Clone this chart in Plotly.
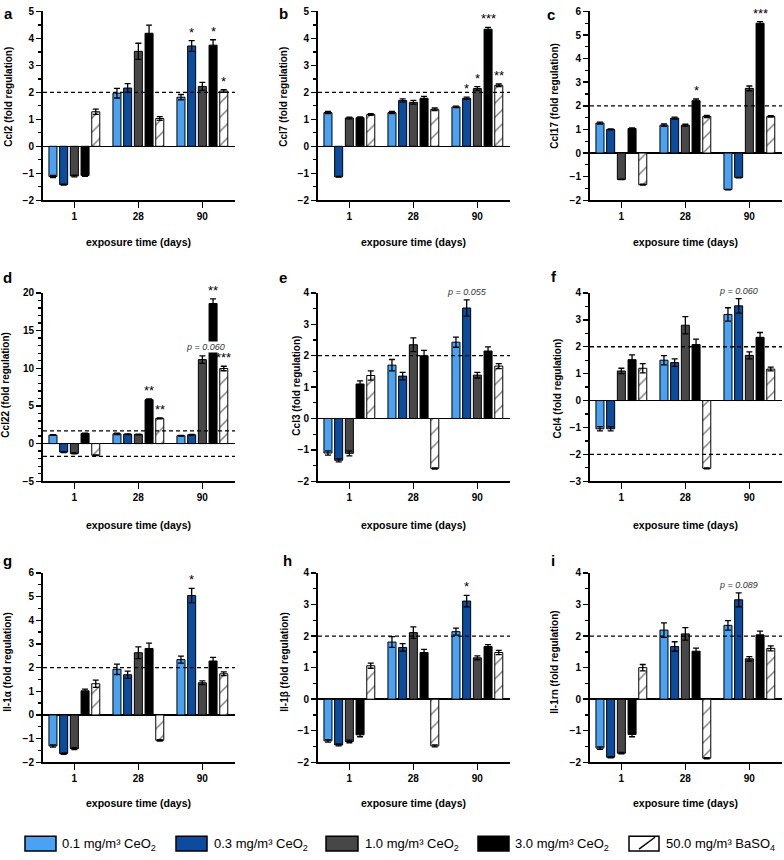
import plotly.graph_objects as go

W, H = 784, 860
FONT = "Liberation Sans"

# ---------------- data ----------------
categories = ["1", "28", "90"]
series_names = ["0.1 mg/m³ CeO<sub>2</sub>", "0.3 mg/m³ CeO<sub>2</sub>",
                "1.0 mg/m³ CeO<sub>2</sub>", "3.0 mg/m³ CeO<sub>2</sub>",
                "50.0 mg/m³ BaSO<sub>4</sub>"]
series_colors = ["#4aa3f2", "#0b4c9e", "#474747", "#000000", "#ffffff"]

# rows = series (0.1, 0.3, 1.0, 3.0 CeO2, BaSO4); columns = day 1, 28, 90
ccl2_values = [[-1.12, 1.97, 1.82], [-1.42, 2.16, 3.72], [-1.10, 3.52, 2.22], [-1.08, 4.19, 3.75], [1.28, 1.03, 2.05]]
ccl2_errors = [[0.04, 0.18, 0.10], [0.02, 0.16, 0.20], [0.03, 0.30, 0.15], [0.03, 0.30, 0.20], [0.10, 0.07, 0.05]]
ccl2_marks = [(1, 2, "*"), (3, 2, "*"), (4, 2, "*")]

ccl7_values = [[1.25, 1.25, 1.46], [-1.13, 1.70, 1.78], [1.05, 1.63, 2.14], [1.06, 1.78, 4.34], [1.18, 1.37, 2.26]]
ccl7_errors = [[0.04, 0.04, 0.03], [0.01, 0.06, 0.04], [0.03, 0.07, 0.07], [0.03, 0.07, 0.07], [0.03, 0.05, 0.05]]
ccl7_marks = [(1, 2, "*"), (2, 2, "*"), (3, 2, "***"), (4, 2, "**")]

ccl17_values = [[1.27, 1.18, -1.55], [1.00, 1.48, -1.04], [-1.12, 1.18, 2.74], [1.04, 2.22, 5.50], [-1.34, 1.55, 1.55]]
ccl17_errors = [[0.04, 0.05, 0.01], [0.02, 0.04, 0.01], [0.01, 0.04, 0.10], [0.02, 0.07, 0.07], [0.02, 0.05, 0.03]]
ccl17_marks = [(3, 1, "*"), (3, 2, "***")]

ccl22_values = [[1.13, 1.30, 1.05], [-1.13, 1.25, 1.17], [-1.30, 1.20, 11.15], [1.35, 5.83, 18.6], [-1.55, 3.35, 9.97]]
ccl22_errors = [[0.05, 0.10, 0.05], [0.05, 0.05, 0.05], [0.05, 0.05, 0.50], [0.05, 0.10, 0.60], [0.05, 0.05, 0.30]]
ccl22_marks = [(3, 1, "**"), (4, 1, "**"), (3, 2, "**"), (4, 2, "***")]
ccl22_pvalues = [(2, 2, "p = 0.060")]

ccl3_values = [[-1.10, 1.70, 2.43], [-1.33, 1.35, 3.52], [-1.11, 2.35, 1.38], [1.10, 2.00, 2.15], [1.37, -1.59, 1.67]]
ccl3_errors = [[0.07, 0.18, 0.16], [0.05, 0.12, 0.26], [0.08, 0.22, 0.09], [0.10, 0.17, 0.13], [0.15, 0.02, 0.08]]
ccl3_pvalues = [(1, 2, "p = 0.055")]

ccl4_values = [[-1.05, 1.50, 3.20], [-1.05, 1.41, 3.52], [1.10, 2.80, 1.68], [1.52, 2.08, 2.35], [1.20, -2.52, 1.17]]
ccl4_errors = [[0.08, 0.17, 0.25], [0.08, 0.14, 0.27], [0.10, 0.32, 0.13], [0.18, 0.20, 0.18], [0.17, 0.02, 0.07]]
ccl4_pvalues = [(1, 2, "p = 0.060")]

il1a_values = [[-1.31, 1.93, 2.34], [-1.63, 1.70, 5.05], [-1.42, 2.63, 1.36], [1.02, 2.81, 2.28], [1.32, -1.07, 1.74]]
il1a_errors = [[0.05, 0.22, 0.15], [0.03, 0.15, 0.30], [0.04, 0.25, 0.08], [0.07, 0.23, 0.15], [0.15, 0.03, 0.08]]
il1a_marks = [(1, 2, "*")]

il1b_values = [[-1.32, 1.81, 2.14], [-1.45, 1.64, 3.11], [-1.34, 2.11, 1.31], [-1.13, 1.48, 1.67], [1.06, -1.48, 1.48]]
il1b_errors = [[0.04, 0.17, 0.11], [0.03, 0.12, 0.18], [0.04, 0.18, 0.06], [0.06, 0.10, 0.06], [0.08, 0.03, 0.07]]
il1b_marks = [(1, 2, "*")]

il1rn_values = [[-1.55, 2.19, 2.34], [-1.84, 1.67, 3.15], [-1.71, 2.07, 1.28], [-1.12, 1.52, 2.04], [1.00, -1.87, 1.61]]
il1rn_errors = [[0.04, 0.23, 0.15], [0.02, 0.15, 0.22], [0.02, 0.20, 0.07], [0.07, 0.10, 0.12], [0.10, 0.02, 0.08]]
il1rn_pvalues = [(1, 2, "p = 0.089")]

panels = [
    dict(letter="a", ylabel="Ccl2 (fold regulation)", yr=(-2, 5), dt=1, mdt=0.5, thr=[2],
         v=ccl2_values, e=ccl2_errors, marks=ccl2_marks, pv=[]),
    dict(letter="b", ylabel="Ccl7 (fold regulation)", yr=(-2, 5), dt=1, mdt=0.5, thr=[2],
         v=ccl7_values, e=ccl7_errors, marks=ccl7_marks, pv=[]),
    dict(letter="c", ylabel="Ccl17 (fold regulation)", yr=(-2, 6), dt=1, mdt=0.5, thr=[2],
         v=ccl17_values, e=ccl17_errors, marks=ccl17_marks, pv=[]),
    dict(letter="d", ylabel="Ccl22 (fold regulation)", yr=(-5, 20), dt=5, mdt=1, thr=[1.7, -1.7],
         v=ccl22_values, e=ccl22_errors, marks=ccl22_marks, pv=ccl22_pvalues),
    dict(letter="e", ylabel="Ccl3 (fold regulation)", yr=(-2, 4), dt=1, mdt=0.5, thr=[2],
         v=ccl3_values, e=ccl3_errors, marks=[], pv=ccl3_pvalues),
    dict(letter="f", ylabel="Ccl4 (fold regulation)", yr=(-3, 4), dt=1, mdt=0.5, thr=[2, -2],
         v=ccl4_values, e=ccl4_errors, marks=[], pv=ccl4_pvalues),
    dict(letter="g", ylabel="Il-1α (fold regulation)", yr=(-2, 6), dt=1, mdt=0.5, thr=[2],
         v=il1a_values, e=il1a_errors, marks=il1a_marks, pv=[]),
    dict(letter="h", ylabel="Il-1β (fold regulation)", yr=(-2, 4), dt=1, mdt=0.5, thr=[2],
         v=il1b_values, e=il1b_errors, marks=il1b_marks, pv=[]),
    dict(letter="i", ylabel="Il-1rn (fold regulation)", yr=(-2, 4), dt=1, mdt=0.5, thr=[2],
         v=il1rn_values, e=il1rn_errors, marks=[], pv=il1rn_pvalues),
]

# ---------------- layout geometry (pixels) ----------------
col_x0 = [43, 318, 590]
plot_w = 192
rows_tb = [(5.5, 197), (291, 482), (575, 767)]
ytitle_x = [9, 284, 555, 6, 297, 558, 8, 285, 555]
ytitle_y = [92, 92, 91, 384, 385, 388, 666, 666, 666]
letter_pos = [(8.5, 8), (283.5, 7.5), (551, 8.5), (7.5, 275), (283, 275), (554, 274),
              (8, 562), (287, 562), (553, 562)]
xtitle_y = [239, 526, 808]

BARGAP = 0.164
BARGROUPGAP = 0.25
NSER = 5


def px(x):
    return x / W


def py(y):
    return 1 - y / H


def bar_x(s, g):
    slot = (1 - BARGAP) / NSER
    return g + (s - (NSER - 1) / 2) * slot


fig = go.Figure()
annotations = []
shapes = []
bold = dict(family=FONT, size=10, color="black", weight="bold")

for k, p in enumerate(panels):
    r, c = divmod(k, 3)
    idx = "" if k == 0 else str(k + 1)
    xa, ya = "x" + idx, "y" + idx
    for s in range(NSER):
        marker = dict(color=series_colors[s], line=dict(color="black", width=1))
        if s == 4:
            marker["pattern"] = dict(shape="/", fgcolor="black", bgcolor="white",
                                     size=10, solidity=0.15)
        fig.add_trace(go.Bar(
            x=[0, 1, 2], y=p["v"][s], name=series_names[s], marker=marker,
            error_y=dict(type="data", array=p["e"][s], color="black", thickness=1.3, width=3),
            xaxis=xa, yaxis=ya, showlegend=False, hoverinfo="skip"))
    top, bot = rows_tb[r]
    x0 = col_x0[c]
    fig.layout["xaxis" + idx] = dict(
        domain=[px(x0), px(x0 + plot_w)], anchor=ya, range=[-0.49, 2.51],
        tickvals=[0, 1, 2], ticktext=categories, ticks="outside", ticklen=6,
        tickwidth=1.5, tickcolor="black", showline=True, linecolor="black", linewidth=2,
        showgrid=False, zeroline=False, tickfont=bold, fixedrange=True)
    fig.layout["yaxis" + idx] = dict(
        domain=[py(bot), py(top)], anchor=xa, range=list(p["yr"]),
        tickmode="linear", tick0=p["yr"][0], dtick=p["dt"], ticks="outside", ticklen=5,
        tickwidth=1.5, tickcolor="black", showline=True, linecolor="black", linewidth=2,
        showgrid=False, zeroline=True, zerolinecolor="black", zerolinewidth=1.5,
        tickfont=bold, fixedrange=True,
        minor=dict(dtick=p["mdt"], tick0=p["yr"][0], ticks="outside", ticklen=3,
                   tickwidth=1.3, tickcolor="black", showgrid=False))
    for t in p["thr"]:
        shapes.append(dict(type="line", xref=xa + " domain", yref=ya, x0=0, x1=1, y0=t, y1=t,
                           line=dict(color="black", width=1.3, dash="4px,3px"), layer="above"))
    for (s, g, txt) in p["marks"]:
        annotations.append(dict(xref=xa, yref=ya, x=bar_x(s, g), y=p["v"][s][g] + p["e"][s][g],
                                text=txt, showarrow=False, xanchor="center", yanchor="bottom",
                                yshift=-1, font=dict(family=FONT, size=13, color="black")))
    for (s, g, txt) in p["pv"]:
        annotations.append(dict(xref=xa, yref=ya, x=bar_x(s, g), y=p["v"][s][g] + p["e"][s][g],
                                text="<i>" + txt + "</i>", showarrow=False, xanchor="center",
                                yanchor="bottom", yshift=3 if k == 3 else 2, borderpad=0,
                                xshift=3 if k == 3 else 0,
                                bgcolor="white" if k == 3 else "rgba(0,0,0,0)",
                                font=dict(family=FONT, size=9, color="#333333")))
    # y title
    annotations.append(dict(xref="paper", yref="paper", x=px(ytitle_x[k]), y=py(ytitle_y[k]),
                            text=p["ylabel"], textangle=-90, showarrow=False,
                            xanchor="center", yanchor="middle", font=bold))
    # x title
    annotations.append(dict(xref=xa, yref="paper", x=1, y=py(xtitle_y[r]),
                            text="exposure time (days)", showarrow=False,
                            xanchor="center", yanchor="middle",
                            font=dict(family=FONT, size=10.5, color="black", weight="bold")))
    # panel letter
    lx, ly = letter_pos[k]
    annotations.append(dict(xref="paper", yref="paper", x=px(lx), y=py(ly), text=p["letter"],
                            showarrow=False, xanchor="center", yanchor="middle",
                            font=dict(family=FONT, size=15, color="black", weight="bold")))

# ---------------- manual legend ----------------
leg_boxes = [(25, 56), (176, 207), (326, 358), (478, 509), (629, 659)]
leg_text_x = [60, 212, 363, 513, 664]
leg_y0, leg_y1 = 842, 857
for s in range(NSER):
    bx0, bx1 = leg_boxes[s]
    shapes.append(dict(type="rect", xref="paper", yref="paper", x0=px(bx0), x1=px(bx1),
                       y0=py(leg_y1), y1=py(leg_y0), fillcolor=series_colors[s],
                       line=dict(color="black", width=1.5)))
    annotations.append(dict(xref="paper", yref="paper", x=px(leg_text_x[s]), y=py(850),
                            text=series_names[s], showarrow=False, xanchor="left",
                            yanchor="middle", font=dict(family=FONT, size=13, color="black")))
bx0, bx1 = leg_boxes[4]
shapes.append(dict(type="line", xref="paper", yref="paper", x0=px(bx0 + 10), x1=px(bx1 - 4),
                   y0=py(leg_y1 - 2), y1=py(leg_y0 + 1), line=dict(color="black", width=1.5)))

fig.update_layout(
    width=W, height=H, autosize=False, margin=dict(l=0, r=0, t=0, b=0),
    paper_bgcolor="white", plot_bgcolor="white", barmode="group",
    bargap=BARGAP, bargroupgap=BARGROUPGAP, showlegend=False, hovermode=False,
    annotations=annotations, shapes=shapes,
    font=dict(family=FONT, color="black"))

fig.write_html("out.html", config={"displayModeBar": False, "staticPlot": True},
               post_script="document.body.style.margin='0';document.body.style.overflow='hidden';")
